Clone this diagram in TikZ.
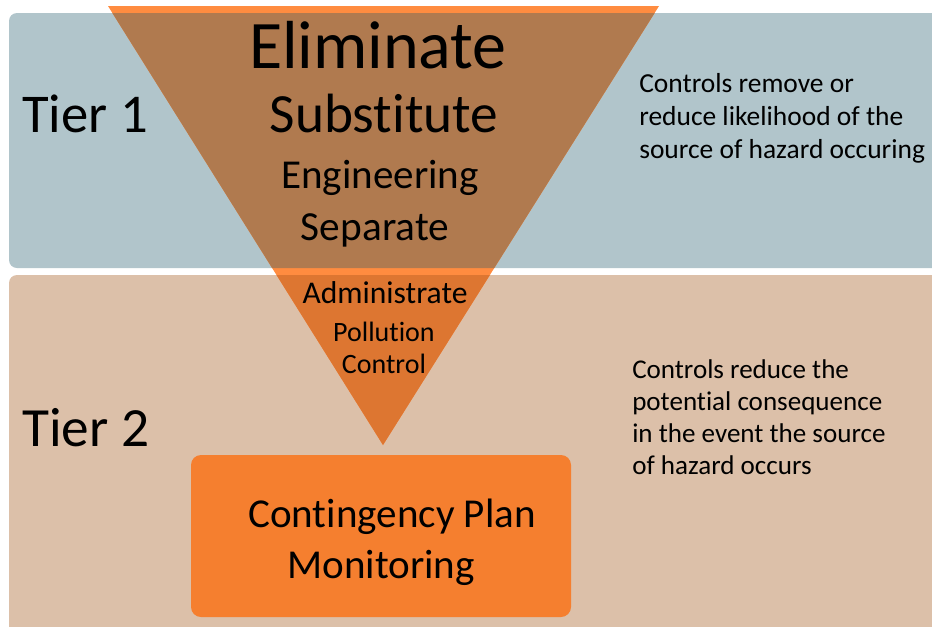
\documentclass[tikz,border=0pt]{standalone}
\usepackage{fontspec}
\setmainfont{Carlito}[Ligatures={NoCommon,NoContextual}]
\definecolor{tierone}{HTML}{B1C5CB}
\definecolor{tiertwo}{HTML}{DCC0A9}
\definecolor{triwhite}{HTML}{FF8C40}
\definecolor{triblue}{HTML}{B07A4F}
\definecolor{tritan}{HTML}{DD7631}
\definecolor{contbox}{HTML}{F57F2F}
\tikzset{
  lbl/.style={anchor=base, inner sep=0pt, text=black},
  lblw/.style={anchor=base west, inner sep=0pt, text=black},
  fs/.style={font=\fontsize{#1}{#1}\selectfont}
}
\begin{document}
\begin{tikzpicture}[x=0.75pt,y=-0.75pt]
\useasboundingbox (0,0) rectangle (932,626);
\clip (0,0) rectangle (932,626);
% tier boxes
\fill[tierone, rounded corners=6pt] (9,13) rectangle (945,268);
\fill[tiertwo, rounded corners=6pt] (9,275) rectangle (945,640);
% inverted triangle
\fill[triwhite] (108,6) -- (659,6) -- (383,445) -- cycle;
\begin{scope}
  \clip[rounded corners=6pt] (9,13) rectangle (945,268);
  \fill[triblue] (108,6) -- (659,6) -- (383,445) -- cycle;
\end{scope}
\begin{scope}
  \clip[rounded corners=6pt] (9,275) rectangle (945,640);
  \fill[tritan] (108,6) -- (659,6) -- (383,445) -- cycle;
\end{scope}
% contingency box
\fill[contbox, rounded corners=7.5pt] (191,455) rectangle (571,617);
% texts
\node[lblw, fs=41pt] (t1) at (22,132) {Tier 1};
\node[lblw, fs=41.5pt] (t2) at (22,446) {Tier 2};
\node[lbl, fs=51pt] (elim) at (378,68) {Eliminate};
\node[lbl, fs=41.5pt] (subs) at (384,132) {Substitute};
\node[lbl, fs=30.8pt] (eng) at (380,188) {Engineering};
\node[lbl, fs=31pt] (sep) at (375,240) {Separate};
\node[lbl, fs=23.7pt] (adm) at (385,303) {Administrate};
\node[lbl, fs=21pt] (pol) at (384,341) {Pollut\kern0pt ion};
\node[lbl, fs=21pt] (ctl) at (384,373) {Control};
\node[lbl, fs=30.8pt] (cont) at (392,527) {Cont\kern0pt ingency Plan};
\node[lbl, fs=30.8pt] (mon) at (381,578) {Monitoring};
\node[lblw, fs=20.6pt] (r1a) at (639,92) {Controls remove or};
\node[lblw, fs=20.6pt] (r1b) at (639,125) {reduce likelihood of the};
\node[lblw, fs=20.6pt] (r1c) at (639,158) {source of hazard occuring};
\node[lblw, fs=20.3pt] (r2a) at (632,378) {Controls reduce the};
\node[lblw, fs=20.3pt] (r2b) at (632,410) {potent\kern0pt ial consequence};
\node[lblw, fs=20.3pt] (r2c) at (632,442) {in the event the source};
\node[lblw, fs=20.3pt] (r2d) at (632,474) {of hazard occurs};
\end{tikzpicture}
\end{document}
